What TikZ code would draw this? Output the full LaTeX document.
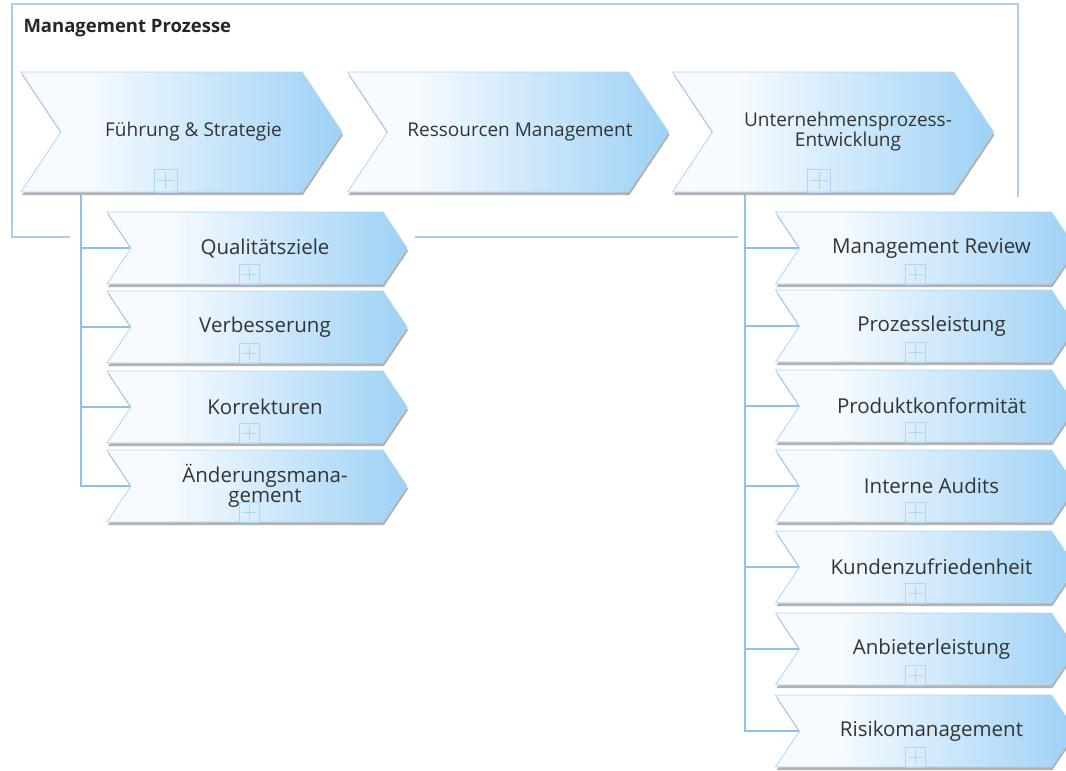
\documentclass[tikz,border=0pt]{standalone}
\usepackage{fontspec}
\setmainfont{Open Sans}
\usetikzlibrary{shapes.symbols,shadows,backgrounds}

\definecolor{chevblue}{HTML}{9DD1F5}
\definecolor{chevlight}{HTML}{F7FBFF}
\definecolor{chevline}{HTML}{AED5F1}
\definecolor{framecol}{HTML}{A9CDEB}
\definecolor{linkcol}{HTML}{8EC0EA}
\definecolor{txtcol}{HTML}{343434}

\pgfdeclarehorizontalshading{chevshade}{100bp}{color(0bp)=(chevlight); color(25bp)=(chevlight); color(35bp)=(chevlight); color(75bp)=(chevblue); color(100bp)=(chevblue)}

\tikzset{
	chev/.style={signal, signal from=west, signal to=east, signal pointer angle=112.6,
		draw=chevline, line width=0.8pt, shading=chevshade, inner sep=0pt,
		general shadow={fill=black!30, shadow xshift=1pt, shadow yshift=-3pt}},
	mainchev/.style={chev, minimum width=321pt, minimum height=120pt},
	subchev/.style={chev, minimum width=300pt, minimum height=72pt},
	chevtext/.style={text=txtcol, align=center, font=\fontsize{19}{20}\selectfont},
	subtext/.style={text=txtcol, align=center, font=\fontsize{20.5}{20}\selectfont},
	plusbox/.style={draw=chevline, line width=0.8pt, anchor=south, inner sep=0pt, minimum size=#1,
		path picture={\draw[chevline, line width=0.8pt]
			([yshift=-3pt]path picture bounding box.north) -- ([yshift=3pt]path picture bounding box.south)
			([xshift=3pt]path picture bounding box.west) -- ([xshift=-3pt]path picture bounding box.east);}},
	link/.style={draw=linkcol, line width=2pt},
}

\begin{document}
\begin{tikzpicture}[x=1pt,y=-1pt]
	\useasboundingbox (0,0) rectangle (1066,771);

	% process chain
	\node[mainchev, label={[chevtext, xshift=12pt]center:Führung \& Strategie}] (fuehrung) at (181.5,132) {};
	\node[mainchev, label={[chevtext, xshift=12pt]center:Ressourcen Management}] (ressourcen) at (508,132) {};
	\node[mainchev, label={[chevtext, xshift=15pt]center:Unternehmensprozess-\\Entwicklung}] (entwicklung) at (833,132) {};
	\node[plusbox=23pt, xshift=-16pt] (fuehrung-plus) at (fuehrung.south) {};
	\node[plusbox=23pt, xshift=-14pt] (entwicklung-plus) at (entwicklung.south) {};

	% sub processes, left
	\node[subchev, label={[subtext, xshift=8pt]center:Qualitätsziele}] (ziele) at (257,248) {};
	\node[subchev, label={[subtext, xshift=8pt]center:Verbesserung}] (verbesserung) at (257,327) {};
	\node[subchev, label={[subtext, xshift=8pt]center:Korrekturen}] (korrekturen) at (257,407) {};
	\node[subchev, label={[subtext, xshift=8pt]center:Änderungsmana-\\gement}] (aenderung) at (257,486) {};

	% sub processes, right
	\node[subchev, label={[subtext, xshift=6pt]center:Management Review}] (review) at (925.5,248) {};
	\node[subchev, label={[subtext, xshift=6pt]center:Prozessleistung}] (leistung) at (925.5,326) {};
	\node[subchev, label={[subtext, xshift=6pt]center:Produktkonformität}] (konform) at (925.5,406) {};
	\node[subchev, label={[subtext, xshift=6pt]center:Interne Audits}] (audits) at (925.5,486) {};
	\node[subchev, label={[subtext, xshift=6pt]center:Kundenzufriedenheit}] (kunden) at (925.5,567) {};
	\node[subchev, label={[subtext, xshift=6pt]center:Anbieterleistung}] (anbieter) at (925.5,649) {};
	\node[subchev, label={[subtext, xshift=6pt]center:Risikomanagement}] (risiko) at (925.5,731) {};

	\foreach \n in {ziele,verbesserung,korrekturen,aenderung}
		\node[plusbox=20pt, xshift=-8pt] (\n-plus) at (\n.south) {};
	\foreach \n in {review,leistung,konform,audits,kunden,anbieter,risiko}
		\node[plusbox=20pt, xshift=-10pt] (\n-plus) at (\n.south) {};

	\node[anchor=west, text=black!85, font=\bfseries\fontsize{18.5}{20}\selectfont] (titel) at (20,28) {Management Prozesse};

	\begin{scope}[on background layer]
		% group frame, hidden behind the sub processes
		\draw[framecol, line width=1.5pt] (70,237) -| (12,4) -| (1018,197);
		\draw[framecol, line width=1.5pt] (415,237) -- (738,237);
		% tree connectors
		\coordinate (lbus) at (81,195);
		\coordinate (rbus) at (745,195);
		\draw[link] (lbus) |- (aenderung.west);
		\draw[link] (rbus) |- (risiko.west);
		\foreach \n in {ziele,verbesserung,korrekturen}
			\draw[link] (lbus |- \n.west) -- (\n.west);
		\foreach \n in {review,leistung,konform,audits,kunden,anbieter}
			\draw[link] (rbus |- \n.west) -- (\n.west);
	\end{scope}
\end{tikzpicture}
\end{document}
